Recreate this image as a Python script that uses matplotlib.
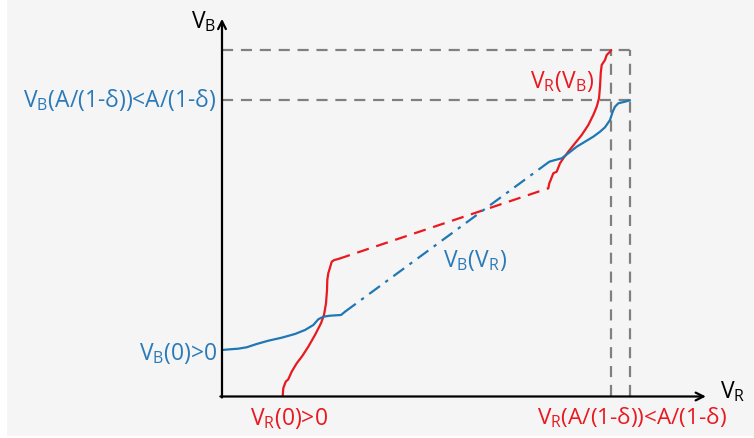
import matplotlib
matplotlib.use("Agg")
import matplotlib.pyplot as plt
from matplotlib.patches import Rectangle

FONT = ["Open Sans", "DejaVu Sans"]
plt.rcParams["font.family"] = FONT
plt.rcParams["mathtext.fontset"] = "custom"
plt.rcParams["mathtext.rm"] = "Open Sans"
plt.rcParams["mathtext.it"] = "Open Sans"

RED = "#e8191f"
BLUE = "#1f77b4"
TBLUE = "#2a7ab9"
GRAY = "#808080"

# Scale: A/(1-delta) = 100 on both axes
LIMIT = 100.0
VR_END = 95.4      # V_R(A/(1-delta))
VB_END = 85.5      # V_B(A/(1-delta))

# Red curve V_R(V_B): x = V_R, y = V_B
red_low_x = [14.88, 15.02, 15.61, 16.25, 17.08, 18.31, 19.68, 21.15, 22.79, 24.26,
             25.0, 25.49, 25.74, 25.81, 26.05, 26.54, 26.89, 27.52, 28.50]
red_low_y = [0.14, 2.37, 4.27, 4.96, 7.16, 9.58, 11.69, 14.37, 17.75, 21.13,
             23.52, 26.90, 30.74, 33.62, 35.56, 37.46, 38.90, 39.39, 39.68]
red_gap_x = [28.50, 79.98]
red_gap_y = [39.68, 60.09]
red_high_x = [79.98, 80.22, 80.56, 81.20, 82.03, 82.84, 83.65, 84.88, 86.52, 88.16,
              89.78, 91.00, 91.84, 92.40, 92.65, 92.82, 93.06, 93.87, 94.29, 95.10, 95.4]
red_high_y = [60.09, 61.53, 62.48, 64.42, 64.88, 67.30, 68.74, 70.65, 73.07, 75.47,
              78.35, 81.24, 83.64, 86.06, 89.41, 93.28, 95.67, 97.11, 98.56, 99.51, 100.0]

# Blue curve V_B(V_R)
blue_low_x = [0.0, 1.96, 4.00, 6.05, 8.50, 11.35, 14.63, 17.89, 20.34, 22.38,
              23.60, 24.83, 26.47, 29.17, 30.15]
blue_low_y = [13.42, 13.62, 13.80, 14.20, 15.15, 16.10, 16.97, 18.04, 19.19, 20.63,
              22.28, 23.03, 23.32, 23.52, 24.47]
blue_gap_x = [30.15, 80.22]
blue_gap_y = [24.47, 67.76]
blue_high_x = [80.22, 81.62, 83.26, 84.88, 86.94, 88.97, 91.00, 92.65, 93.87, 95.10,
               95.76, 96.32, 97.13, 98.77, 100.0]
blue_high_y = [67.76, 68.25, 68.74, 70.19, 72.09, 73.54, 74.98, 76.42, 77.69, 79.80,
               82.19, 83.64, 84.62, 85.08, 85.5]

fig = plt.figure(figsize=(7.54, 4.38), dpi=100)
fig.patch.set_facecolor("white")
fig.patches.append(Rectangle((7 / 754, 2 / 438), 1, 1, transform=fig.transFigure,
                             facecolor="#f5f5f5", edgecolor="none", zorder=-10))
ax = fig.add_axes([0, 0, 1, 1])
ax.set_facecolor("none")
ax.set_xlim(-54.41, 130.39)
ax.set_ylim(-11.98, 114.43)
ax.axis("off")

# guide lines
gkw = dict(color=GRAY, lw=1.6, dashes=(5, 3.5))
ax.plot([0, LIMIT], [LIMIT, LIMIT], **gkw)
ax.plot([0, LIMIT], [VB_END, VB_END], **gkw)
ax.plot([VR_END, VR_END], [0, LIMIT], **gkw)
ax.plot([LIMIT, LIMIT], [0, LIMIT], **gkw)

# curves
ax.plot(red_low_x, red_low_y, color=RED, lw=1.6, solid_capstyle="round")
ax.plot(red_gap_x, red_gap_y, color=RED, lw=1.6, dashes=(5.5, 3.5))
ax.plot(red_high_x, red_high_y, color=RED, lw=1.6, solid_capstyle="round")
ax.plot(blue_low_x, blue_low_y, color=BLUE, lw=1.6, solid_capstyle="round")
ax.plot(blue_gap_x, blue_gap_y, color=BLUE, lw=1.6, dashes=(6, 3, 1.5, 3))
ax.plot(blue_high_x, blue_high_y, color=BLUE, lw=1.6, solid_capstyle="round")

# axes with arrows
akw = dict(arrowstyle="->", lw=1.6, color="black", shrinkA=0, shrinkB=0, mutation_scale=14)
ax.annotate("", xy=(0, 109.0), xytext=(0, -0.3), arrowprops=akw)
ax.annotate("", xy=(118.6, 0), xytext=(-0.4, 0), arrowprops=akw)

fs = 16.5
ax.text(-1.5, 106.3, r"V$_\mathrm{B}$", ha="right", va="baseline", fontsize=fs, color="black")
ax.text(122.0, -0.6, r"V$_\mathrm{R}$", ha="left", va="baseline", fontsize=fs, color="black")
ax.text(-1.3, 83.55, r"V$_\mathrm{B}$(A/(1-δ))<A/(1-δ)", ha="right", va="baseline",
        fontsize=fs, color=TBLUE)
ax.text(-1.0, 10.53, r"V$_\mathrm{B}$(0)>0", ha="right", va="baseline", fontsize=fs, color=TBLUE)
ax.text(6.86, -8.1, r"V$_\mathrm{R}$(0)>0", ha="left", va="baseline", fontsize=fs, color=RED)
ax.text(77.13, -8.1, r"V$_\mathrm{R}$(A/(1-δ))<A/(1-δ)", ha="left", va="baseline",
        fontsize=16.2, color=RED)
ax.text(75.49, 88.95, r"V$_\mathrm{R}$(V$_\mathrm{B}$)", ha="left", va="baseline",
        fontsize=fs, color=RED)
ax.text(54.24, 37.46, r"V$_\mathrm{B}$(V$_\mathrm{R}$)", ha="left", va="baseline",
        fontsize=fs, color=TBLUE)

fig.savefig("out.png", dpi=100, facecolor=fig.get_facecolor())
